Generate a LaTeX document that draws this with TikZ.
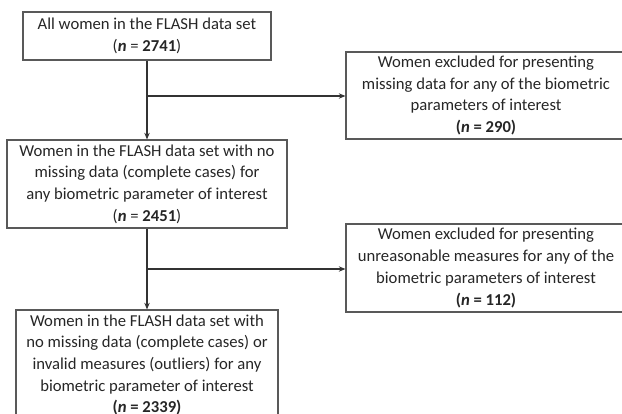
\documentclass[tikz,border=0pt]{standalone}
\usepackage{fontspec}
\setmainfont{Carlito}
\usetikzlibrary{arrows.meta}
\begin{document}
\begin{tikzpicture}[x=0.75pt,y=-0.75pt,
  flowbox/.style={draw=black!65, line width=0.8pt, align=center, text=black!85,
    font=\fontsize{12.5}{16.3}\selectfont, inner sep=0pt, anchor=center},
  conn/.style={draw=black!80, line width=0.8pt, -{Stealth[length=5pt,width=4pt]}},
  plain/.style={draw=black!80, line width=0.8pt}]
\useasboundingbox (0,0) rectangle (622,414);
\node[flowbox, minimum width=248*0.75pt, minimum height=48*0.75pt] (b1) at (147,36)
  {All women in the FLASH data set\\(\textbf{\textit{n}} = \textbf{2741})};
\node[flowbox, minimum width=280*0.75pt, minimum height=87*0.75pt] (b2) at (486,95.5)
  {Women excluded for presenting\\missing data for any of the biometric\\parameters of interest\\\textbf{(\textit{n} = 290)}};
\node[flowbox, minimum width=280*0.75pt, minimum height=88*0.75pt] (b3) at (147,184)
  {Women in the FLASH data set with no\\missing data (complete cases) for\\any biometric parameter of interest\\(\textbf{\textit{n}} = \textbf{2451})};
\node[flowbox, minimum width=280*0.75pt, minimum height=88*0.75pt] (b4) at (486,268)
  {Women excluded for presenting\\unreasonable measures for any of the\\biometric parameters of interest\\\textbf{(\textit{n} = 112)}};
\node[flowbox, minimum width=262*0.75pt, minimum height=110*0.75pt] (b5) at (147,365)
  {Women in the FLASH data set with\\no missing data (complete cases) or\\invalid measures (outliers) for any\\biometric parameter of interest\\\textbf{(\textit{n} = 2339)}};
\coordinate (j1) at (147,96);
\coordinate (j2) at (147,269);
\draw[conn] (b1.south) -- (b3.north);
\draw[conn] (j1) -- (j1 -| b2.west);
\draw[conn] (b3.south) -- (b5.north);
\draw[conn] (j2) -- (j2 -| b4.west);
\end{tikzpicture}
\end{document}
